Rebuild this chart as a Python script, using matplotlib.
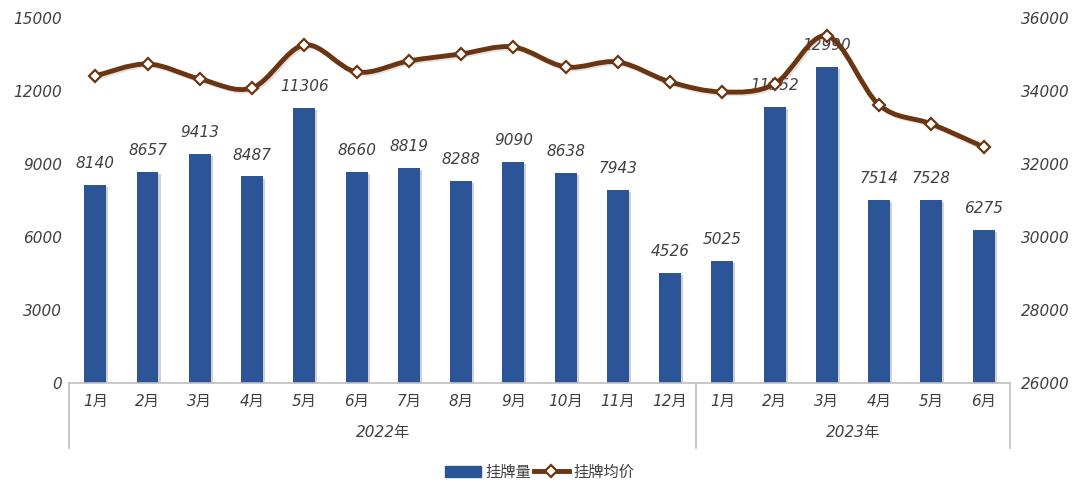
import matplotlib
matplotlib.use("Agg")
import matplotlib.pyplot as plt
import matplotlib.patheffects as pe
from matplotlib.path import Path
from matplotlib.patches import PathPatch, Patch
from matplotlib.lines import Line2D
import numpy as np

months = ["1月", "2月", "3月", "4月", "5月", "6月", "7月", "8月", "9月", "10月", "11月", "12月",
          "1月", "2月", "3月", "4月", "5月", "6月"]
years = ["2022年", "2023年"]
year_counts = [12, 6]
listings = [8140, 8657, 9413, 8487, 11306, 8660, 8819, 8288, 9090, 8638, 7943, 4526,
            5025, 11352, 12990, 7514, 7528, 6275]
avg_price = [34411, 34740, 34329, 34082, 35260, 34521, 34822, 35014, 35205, 34658, 34795, 34247,
             33973, 34192, 35507, 33616, 33096, 32466]
left_ticks = [0, 3000, 6000, 9000, 12000, 15000]
right_ticks = [26000, 28000, 30000, 32000, 34000, 36000]
series_names = ["挂牌量", "挂牌均价"]

BAR = "#2B5597"
LINE = "#6B3511"
TXT = "#404040"
FAM = ["DejaVu Sans", "Noto Sans CJK SC"]
FS = 11

plt.rcParams['font.family'] = FAM

fig = plt.figure(figsize=(10.8, 4.99), dpi=100)
ax = fig.add_axes([0.064, 0.2325, 0.871, 0.7315])
ax2 = ax.twinx()

x = np.arange(len(months))
shadow = [pe.SimplePatchShadow(offset=(1.5, -1.5), shadow_rgbFace="#999999", alpha=0.45), pe.Normal()]
bars = ax.bar(x, listings, width=0.42, color=BAR, zorder=2)
for b in bars:
    b.set_path_effects(shadow)
for xi, v in zip(x, listings):
    ax.annotate(str(v), (xi, v), xytext=(0, 10), textcoords="offset points",
                ha="center", va="bottom", fontsize=FS, style="italic", color=TXT,
                family=FAM, zorder=5)

ax.set_xlim(-0.5, len(months) - 0.5)
ax.set_ylim(0, 15000)
ax.set_yticks(left_ticks)
ax.set_yticklabels([str(t) for t in left_ticks], fontsize=FS, style="italic", color=TXT)
ax2.set_ylim(26000, 36000)
ax2.set_yticks(right_ticks)
ax2.set_yticklabels([str(t) for t in right_ticks], fontsize=FS, style="italic", color=TXT)

for a in (ax, ax2):
    for s in ["top", "left", "right"]:
        a.spines[s].set_visible(False)
ax.spines["bottom"].set_color("#BFBFBF")
ax.spines["bottom"].set_linewidth(1.2)
ax2.spines["bottom"].set_visible(False)
ax.tick_params(axis="y", length=0, pad=5)
ax2.tick_params(axis="y", length=0, pad=8)

ax.set_xticks(x)
ax.set_xticklabels(months, fontsize=FS, style="italic", color=TXT)
ax.tick_params(axis="x", length=0, pad=8)

# category group separators and year labels
trans = ax.get_xaxis_transform()
bounds = [-0.5]
for c in year_counts:
    bounds.append(bounds[-1] + c)
for b in bounds:
    ax.plot([b, b], [0, -0.178], transform=trans, color="#BFBFBF", lw=1.2, clip_on=False)
for i, yr in enumerate(years):
    cx = (bounds[i] + bounds[i + 1]) / 2
    ax.text(cx, -0.137, yr, transform=trans, ha="center", va="center", fontsize=FS,
            style="italic", color=TXT, family=FAM)

# smoothed line via cubic Bezier
px = x.astype(float)
py = np.array(avg_price, dtype=float)
n = len(px)
verts = [(px[0], py[0])]
codes = [Path.MOVETO]
for i in range(n - 1):
    p0 = np.array([px[max(i - 1, 0)], py[max(i - 1, 0)]])
    p1 = np.array([px[i], py[i]])
    p2 = np.array([px[i + 1], py[i + 1]])
    p3 = np.array([px[min(i + 2, n - 1)], py[min(i + 2, n - 1)]])
    c1 = p1 + (p2 - p0) / 6
    c2 = p2 - (p3 - p1) / 6
    verts += [tuple(c1), tuple(c2), tuple(p2)]
    codes += [Path.CURVE4] * 3
path = Path(verts, codes)
lshadow = [pe.Stroke(offset=(1.2, -1.2), foreground="#aaaaaa", alpha=0.35), pe.Normal()]
ax2.add_patch(PathPatch(path, facecolor="none", edgecolor=LINE, lw=3.5, zorder=3,
                        path_effects=lshadow, capstyle="round", joinstyle="round"))
ax2.plot(px, py, linestyle="none", marker="D", markersize=6.5, markerfacecolor="white",
         markeredgecolor=LINE, markeredgewidth=1.6, zorder=4)

handles = [Patch(facecolor=BAR, edgecolor=BAR),
           Line2D([0], [0], color=LINE, lw=3.5, marker="D", markersize=6.5,
                  markerfacecolor="white", markeredgecolor=LINE, markeredgewidth=1.6)]
leg = fig.legend(handles, series_names, loc="center", bbox_to_anchor=(0.5, 0.054), ncol=2,
                 frameon=False, handlelength=2.3, handleheight=0.7, columnspacing=0.2,
                 handletextpad=0.3, prop={"size": FS, "style": "italic", "family": FAM})
for t in leg.get_texts():
    t.set_color(TXT)

fig.savefig("out.png", dpi=100)
